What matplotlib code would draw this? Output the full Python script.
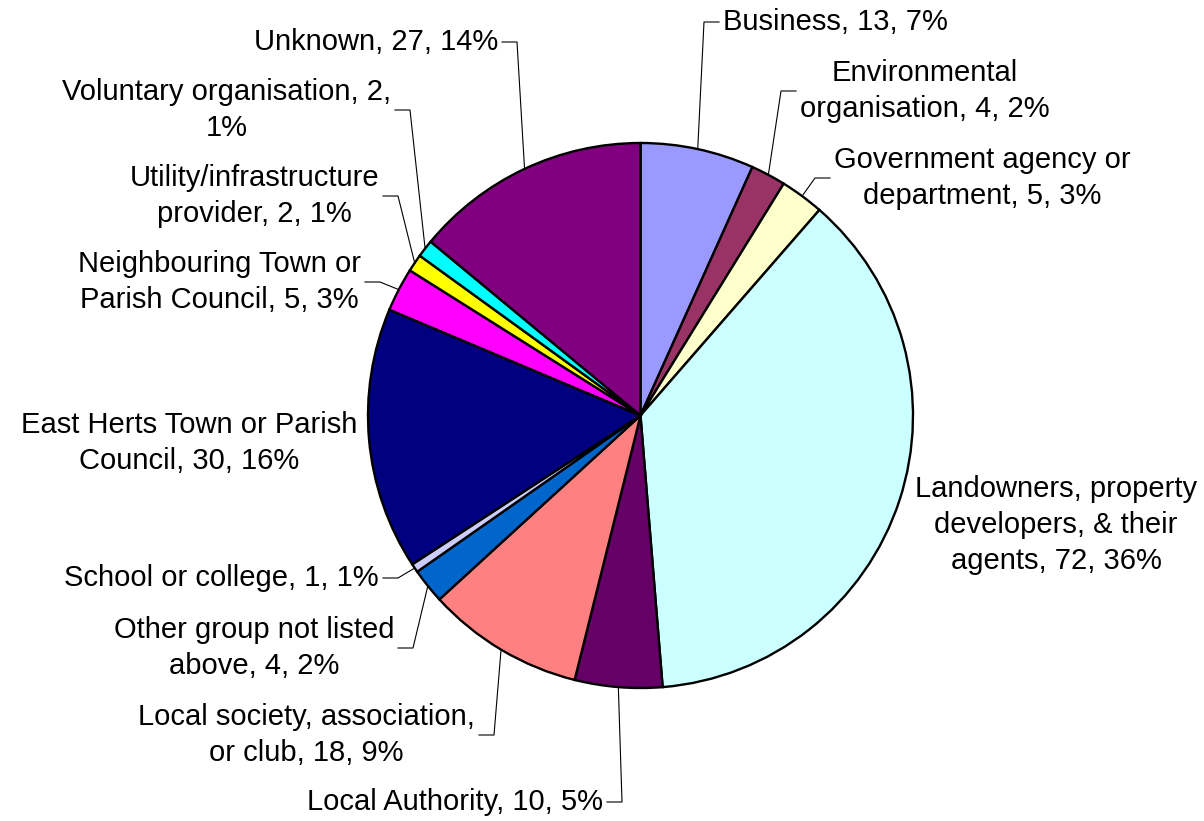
import matplotlib.pyplot as plt
import numpy as np

plt.rcParams['font.family'] = ['Liberation Sans', 'DejaVu Sans']

# clockwise from 12 o'clock
groups = ['Business', 'Environmental organisation', 'Government agency or department',
          'Landowners, property developers, & their agents', 'Local Authority',
          'Local society, association, or club', 'Other group not listed above',
          'School or college', 'East Herts Town or Parish Council',
          'Neighbouring Town or Parish Council', 'Utility/infrastructure provider',
          'Voluntary organisation', 'Unknown']
counts = [13, 4, 5, 72, 10, 18, 4, 1, 30, 5, 2, 2, 27]
percents = [7, 2, 3, 36, 5, 9, 2, 1, 16, 3, 1, 1, 14]

# how each label is wrapped on the chart
label_fmt = ['Business, {v}, {p}%',
             'Environmental\norganisation, {v}, {p}%',
             'Government agency or\ndepartment, {v}, {p}%',
             'Landowners, property\ndevelopers, & their\nagents, {v}, {p}%',
             'Local Authority, {v}, {p}%',
             'Local society, association,\nor club, {v}, {p}%',
             'Other group not listed\nabove, {v}, {p}%',
             'School or college, {v}, {p}%',
             'East Herts Town or Parish\nCouncil, {v}, {p}%',
             'Neighbouring Town or\nParish Council, {v}, {p}%',
             'Utility/infrastructure\nprovider, {v}, {p}%',
             'Voluntary organisation, {v},\n{p}%',
             'Unknown, {v}, {p}%']

colors = ['#9999FF', '#993366', '#FFFFCC', '#CCFFFF', '#660066', '#FF8080', '#0066CC',
          '#CCCCFF', '#000080', '#FF00FF', '#FFFF00', '#00FFFF', '#800080']

W, H = 1204, 821
cx, cy, R = 640.5, 415.5, 272.5

# label placement in pixels (x, y of block centre, alignment, leader line?)
label_pos = [(723, 22, 'left', True), (800, 91, 'left', True), (834, 178, 'left', True),
             (1056, 525, 'center', False), (603, 802, 'right', True),
             (475, 735, 'right', True), (394, 648, 'right', True),
             (379, 578, 'right', True), (357, 443, 'right', False),
             (361, 282, 'right', True), (379, 196, 'right', True),
             (391, 110, 'right', True), (498, 42, 'right', True)]

fig = plt.figure(figsize=(W / 100, H / 100), dpi=100)
ax = fig.add_axes([0, 0, 1, 1])
wedges, _ = ax.pie(counts, colors=colors, startangle=90, counterclock=False,
                   center=(cx, H - cy), radius=R,
                   wedgeprops=dict(edgecolor='black', linewidth=1.7))
ax.set_xlim(0, W)
ax.set_ylim(0, H)
ax.axis('off')

for w, fmt, v, p, (lx, ly, ha, lead) in zip(wedges, label_fmt, counts, percents, label_pos):
    ax.text(lx, H - ly, fmt.format(v=v, p=p), ha=ha, va='center', multialignment='center',
            fontsize=21, linespacing=1.38)
    if not lead:
        continue
    mid = np.deg2rad((w.theta1 + w.theta2) / 2)
    ex, ey = cx + R * np.cos(mid), (H - cy) + R * np.sin(mid)
    side = 1 if ha == 'left' else -1
    tail = lx - side * 4
    elbow = tail - side * 15
    ax.plot([ex, elbow, tail], [ey, H - ly, H - ly], color='black', lw=0.8)

fig.savefig('out.png', dpi=100)
